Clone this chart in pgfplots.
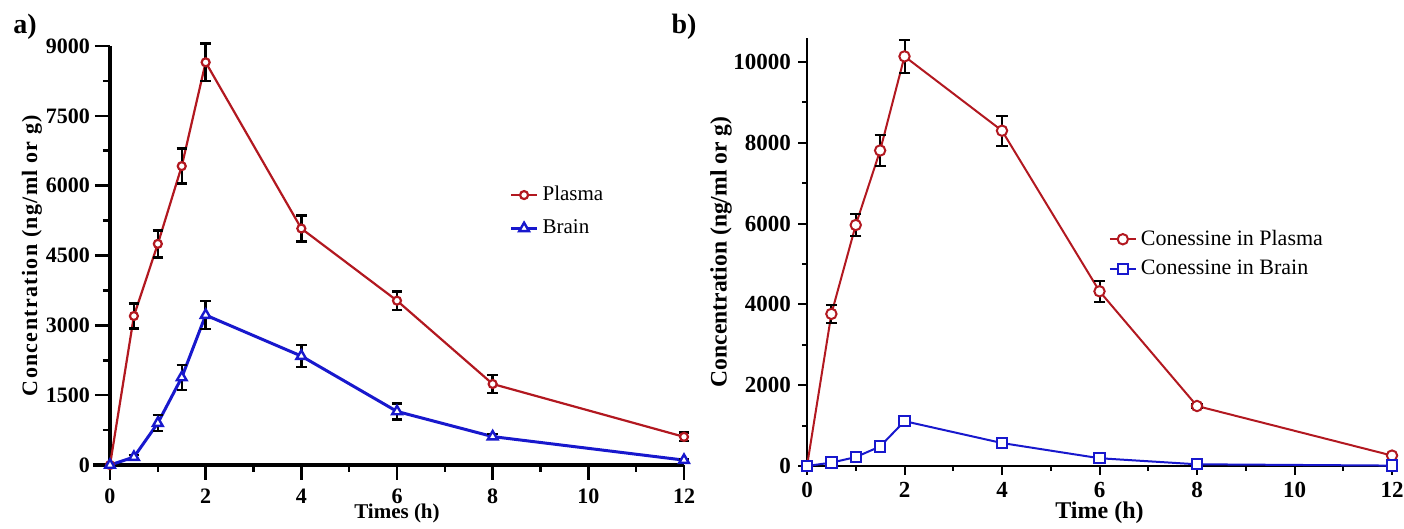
\documentclass[border=0pt]{standalone}
\usepackage{fontspec}
\setmainfont{Liberation Serif}
\usepackage{pgfplots}
\pgfplotsset{compat=1.18}
\definecolor{pred}{RGB}{178,24,32}
\definecolor{pblue}{RGB}{24,24,205}
\pgfplotsset{
  myleg/.style={legend image code/.code={\draw[mark repeat=2,mark phase=2,##1] plot coordinates {(0pt,0pt) (6.5pt,0pt) (13pt,0pt)};}},
}
\begin{document}
\begin{tikzpicture}[x=1pt,y=1pt]
\path[use as bounding box] (0,0) rectangle (702,264.5);
\node[font=\bfseries\fontsize{14}{16}\selectfont] at (12.5,251) {a)};
\node[font=\bfseries\fontsize{14}{16}\selectfont] at (342,251) {b)};
% ---------------- panel a
\begin{axis}[
  at={(55pt,32pt)}, anchor=south west, scale only axis,
  width=287pt, height=209.5pt,
  xmin=0, xmax=12, ymin=0, ymax=9000, clip=false,
  axis x line=bottom, axis y line=left,
  axis line style={line width=2pt,-},
  xtick={0,2,...,12}, ytick={0,1500,...,9000},
  minor x tick num=1, minor y tick num=1,
  tick align=outside, major tick length=7.5pt, minor tick length=3.5pt,
  every tick/.style={line width=1.3pt,black},
  /pgf/number format/assume math mode=true,
  /pgf/number format/1000 sep={},
  scaled y ticks=false,
  ticklabel style={font=\bfseries\fontsize{11}{12}\selectfont},
  yticklabel style={xshift=1pt},
  xticklabel style={yshift=-1pt},
  xlabel={Times (h)},
  xlabel style={at={(axis description cs:0.5,-0.116)}, anchor=center, font=\bfseries\fontsize{10.5}{12}\selectfont},
  ylabel={Concentration (ng/ml or g)},
  ylabel style={at={(axis description cs:-0.136,0.5)}, anchor=center, font=\bfseries\fontsize{11}{12}\selectfont\addfontfeatures{LetterSpace=6}},
  legend style={draw=none, fill=none, at={(axis description cs:0.685,0.605)}, anchor=west,
    font=\fontsize{10.5}{12}\selectfont, row sep=4pt},
  legend cell align=left, myleg,
]
\draw[line width=2pt] (axis cs:-0.36,0) -- (axis cs:0,0);
\addplot[pred, line width=1.1pt, mark=*, mark size=2pt,
  mark options={solid, fill=white, draw=pred, line width=1.1pt},
  error bars/.cd, y dir=both, y explicit,
  error bar style={black, line width=1.2pt},
  error mark options={black, rotate=90, mark size=2.6pt, line width=1.2pt}]
  coordinates {
  (0,0) +- (0,0)
  (0.5,3200) +- (0,270)
  (1,4750) +- (0,290)
  (1.5,6420) +- (0,375)
  (2,8650) +- (0,400)
  (4,5080) +- (0,280)
  (6,3530) +- (0,200)
  (8,1740) +- (0,190)
  (12,605) +- (0,90)
  };
\addlegendentry{Plasma}
\addplot[pblue, line width=1.5pt, mark=triangle*, mark size=2.8pt,
  mark options={solid, fill=white, draw=pblue, line width=1.2pt},
  error bars/.cd, y dir=both, y explicit,
  error bar style={black, line width=1.2pt},
  error mark options={black, rotate=90, mark size=2.6pt, line width=1.2pt}]
  coordinates {
  (0,0) +- (0,0)
  (0.5,170) +- (0,50)
  (1,900) +- (0,170)
  (1.5,1880) +- (0,270)
  (2,3220) +- (0,300)
  (4,2340) +- (0,240)
  (6,1150) +- (0,170)
  (8,610) +- (0,50)
  (12,105) +- (0,30)
  };
\addlegendentry{Brain}
\end{axis}
% ---------------- panel b
\begin{axis}[
  at={(403.5pt,31.5pt)}, anchor=south west, scale only axis,
  width=292.5pt, height=214.1pt,
  xmin=0, xmax=12, ymin=0, ymax=10600, clip=false,
  axis x line=bottom, axis y line=left,
  axis line style={line width=1.2pt,-},
  xtick={0,2,...,12}, ytick={0,2000,...,10000},
  minor x tick num=1, minor y tick num=1,
  tick align=outside, major tick length=4.5pt, minor tick length=2.5pt,
  every tick/.style={line width=1pt,black},
  /pgf/number format/assume math mode=true,
  /pgf/number format/1000 sep={},
  scaled y ticks=false,
  ticklabel style={font=\bfseries\fontsize{11.5}{13}\selectfont},
  xlabel={Time (h)},
  xlabel style={at={(axis description cs:0.5,-0.11)}, anchor=center, font=\bfseries\fontsize{12}{14}\selectfont},
  ylabel={Concentration (ng/ml or g)},
  ylabel style={at={(axis description cs:-0.147,0.5)}, anchor=center, font=\bfseries\fontsize{11.8}{13}\selectfont},
  legend style={draw=none, fill=none, at={(axis description cs:0.505,0.495)}, anchor=west,
    font=\fontsize{11}{13}\selectfont, row sep=2pt},
  legend cell align=left, myleg,
]
\draw[line width=1.2pt] (axis cs:-0.12,0) -- (axis cs:0,0);
\addplot[pred, line width=1pt, mark=*, mark size=2.6pt,
  mark options={solid, fill=white, draw=pred, line width=1pt},
  error bars/.cd, y dir=both, y explicit,
  error bar style={black, line width=1pt},
  error mark options={black, rotate=90, mark size=2.8pt, line width=1pt}]
  coordinates {
  (0,0) +- (0,0)
  (0.5,3765) +- (0,230)
  (1,5965) +- (0,270)
  (1.5,7810) +- (0,385)
  (2,10140) +- (0,405)
  (4,8300) +- (0,370)
  (6,4325) +- (0,263)
  (8,1485) +- (0,40)
  (12,258) +- (0,20)
  };
\addlegendentry{Conessine in Plasma}
\addplot[pblue, line width=1pt, mark=square*, mark size=2.6pt,
  mark options={solid, fill=white, draw=pblue, line width=1pt},
  error bars/.cd, y dir=both, y explicit,
  error bar style={black, line width=1pt},
  error mark options={black, rotate=90, mark size=2.8pt, line width=1pt}]
  coordinates {
  (0,0) +- (0,0)
  (0.5,83) +- (0,15)
  (1,220) +- (0,20)
  (1.5,484) +- (0,25)
  (2,1110) +- (0,30)
  (4,568) +- (0,25)
  (6,192) +- (0,15)
  (8,42) +- (0,10)
  (12,10) +- (0,5)
  };
\addlegendentry{Conessine in Brain}
\end{axis}
\end{tikzpicture}
\end{document}
